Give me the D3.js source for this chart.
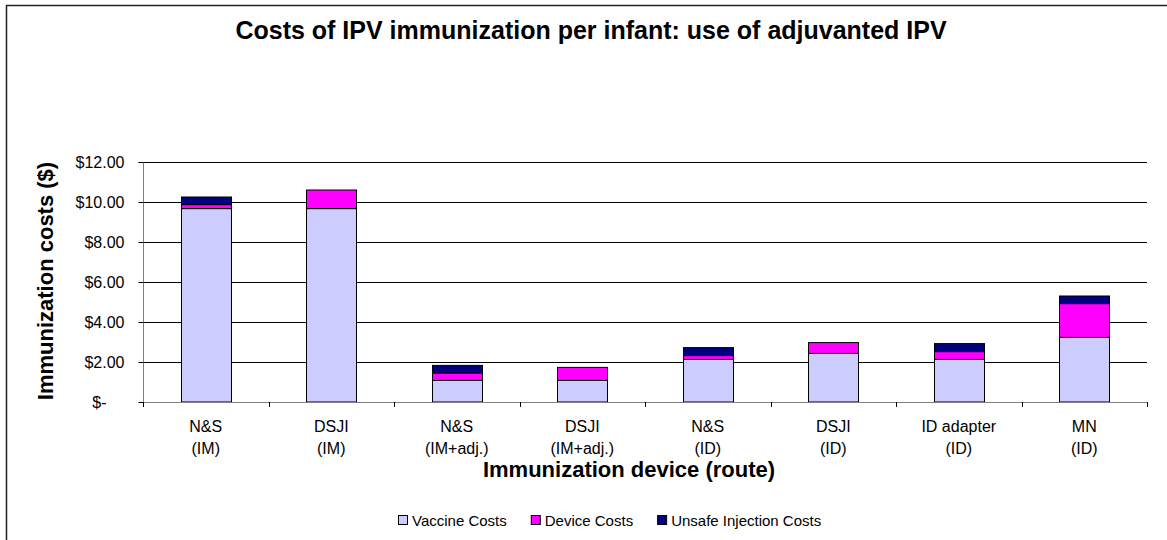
<!DOCTYPE html>
<html>
<head>
<meta charset="utf-8">
<script src="https://cdn.jsdelivr.net/npm/d3@7"></script>
<style>
  html, body { margin: 0; padding: 0; background: #fff; }
  svg { display: block; font-family: "Liberation Sans", Arial, sans-serif; }
</style>
</head>
<body>
<svg id="chart" width="1167" height="540"></svg>
<script>
// ---- data ----
const devices = ["N&S", "DSJI", "N&S", "DSJI", "N&S", "DSJI", "ID adapter", "MN"];
const routes = ["(IM)", "(IM)", "(IM+adj.)", "(IM+adj.)", "(ID)", "(ID)", "(ID)", "(ID)"];
const seriesNames = ["Vaccine Costs", "Device Costs", "Unsafe Injection Costs"];
const vaccineCosts = [9.67, 9.67, 1.08, 1.08, 2.13, 2.43, 2.13, 3.23];
const deviceCosts = [0.20, 0.93, 0.37, 0.65, 0.19, 0.54, 0.39, 1.69];
const unsafeCosts = [0.38, 0, 0.38, 0, 0.40, 0, 0.40, 0.38];
const yTicks = [0, 2, 4, 6, 8, 10, 12];
const seriesColors = ["#CCCCFF", "#FF00FF", "#000080"];

const categories = devices.map((d, i) => i + "|" + d + " " + routes[i]);
const rows = categories.map((c, i) => ({
  cat: c,
  "Vaccine Costs": vaccineCosts[i],
  "Device Costs": deviceCosts[i],
  "Unsafe Injection Costs": unsafeCosts[i]
}));

const svg = d3.select("#chart");

// outer chart border (cropped on right/bottom as in reference)
svg.append("rect")
  .attr("x", 6.5).attr("y", 5.5)
  .attr("width", 1170).attr("height", 545)
  .attr("fill", "none").attr("stroke", "#222").attr("stroke-width", 1.5);

const plot = { left: 143, right: 1147, top: 162, bottom: 402 };

const x = d3.scaleBand()
  .domain(categories)
  .range([plot.left, plot.right])
  .paddingInner(0.6)
  .paddingOuter(0.3);

const y = d3.scaleLinear()
  .domain([0, 12])
  .range([plot.bottom, plot.top]);

// gridlines
svg.append("g")
  .selectAll("line")
  .data(yTicks.filter(t => t > 0))
  .join("line")
  .attr("x1", plot.left).attr("x2", plot.right)
  .attr("y1", d => Math.round(y(d)) + 0.5).attr("y2", d => Math.round(y(d)) + 0.5)
  .attr("stroke", "#000").attr("stroke-width", 1);

// stacked bars
const stack = d3.stack().keys(seriesNames);
const stacked = stack(rows);
const color = d3.scaleOrdinal().domain(seriesNames).range(seriesColors);

svg.append("g")
  .selectAll("g")
  .data(stacked)
  .join("g")
  .attr("fill", d => color(d.key))
  .selectAll("rect")
  .data(d => d.filter(s => s[1] - s[0] > 0))
  .join("rect")
  .attr("x", d => Math.round(x(d.data.cat)) + 0.5)
  .attr("width", Math.round(x.bandwidth()))
  .attr("y", d => y(d[1]))
  .attr("height", d => y(d[0]) - y(d[1]))
  .attr("stroke", "#000").attr("stroke-width", 1);

// y axis
const yAxis = d3.axisLeft(y)
  .tickValues(yTicks)
  .tickSize(5)
  .tickPadding(14)
  .tickFormat(d => d === 0 ? "$-" : "$" + d3.format(".2f")(d));

const yg = svg.append("g")
  .attr("transform", `translate(${plot.left + 0.5},0)`)
  .call(yAxis);
yg.select(".domain").attr("stroke", "#808080").attr("d", `M-5,${plot.top}.5H0V${plot.bottom + 5}`);
yg.selectAll(".tick line").attr("stroke", "#000");
yg.selectAll(".tick text")
  .attr("font-size", 16).attr("fill", "#000")
  .attr("font-family", "Liberation Sans, Arial, sans-serif")
  .attr("dx", d => d === 0 ? -18 : 0);

// x axis baseline + boundary ticks
const step = x.step();
const boundaries = categories.map(c => x(c) - step * x.paddingOuter()).concat([x(categories[categories.length - 1]) + x.bandwidth() + step * x.paddingOuter()]);
svg.append("line")
  .attr("x1", plot.left).attr("x2", plot.right)
  .attr("y1", plot.bottom + 0.5).attr("y2", plot.bottom + 0.5)
  .attr("stroke", "#808080");
svg.append("g").selectAll("line")
  .data(boundaries)
  .join("line")
  .attr("x1", d => Math.round(d) + 0.5).attr("x2", d => Math.round(d) + 0.5)
  .attr("y1", plot.bottom).attr("y2", plot.bottom + 5)
  .attr("stroke", "#000");

// category labels
const catG = svg.append("g").attr("font-size", 16).attr("text-anchor", "middle").attr("fill", "#000");
catG.selectAll("text.l1")
  .data(categories)
  .join("text").attr("class", "l1")
  .attr("x", d => x(d) + x.bandwidth() / 2)
  .attr("y", 432)
  .text((d, i) => devices[i]);
catG.selectAll("text.l2")
  .data(categories)
  .join("text").attr("class", "l2")
  .attr("x", d => x(d) + x.bandwidth() / 2)
  .attr("y", 454)
  .text((d, i) => routes[i]);

// title
svg.append("text")
  .attr("x", 591).attr("y", 39)
  .attr("text-anchor", "middle")
  .attr("font-size", 25).attr("font-weight", "bold")
  .text("Costs of IPV immunization per infant: use of adjuvanted IPV");

// axis titles
svg.append("text")
  .attr("x", 629).attr("y", 477)
  .attr("text-anchor", "middle")
  .attr("font-size", 22).attr("font-weight", "bold")
  .text("Immunization device (route)");

svg.append("text")
  .attr("transform", `translate(53,281) rotate(-90)`)
  .attr("text-anchor", "middle")
  .attr("font-size", 22).attr("font-weight", "bold")
  .text("Immunization costs ($)");

// legend
const legend = svg.append("g").attr("font-size", 15);
let lx = 398;
seriesNames.forEach((name, i) => {
  const g = legend.append("g").attr("transform", `translate(${lx},0)`);
  g.append("rect").attr("x", 0.5).attr("y", 515.5).attr("width", 9).attr("height", 9)
    .attr("fill", seriesColors[i]).attr("stroke", "#000").attr("stroke-width", 1);
  const t = g.append("text").attr("x", 14).attr("y", 525.5).text(name);
  lx += 14 + t.node().getComputedTextLength() + 24;
});
</script>
</body>
</html>
